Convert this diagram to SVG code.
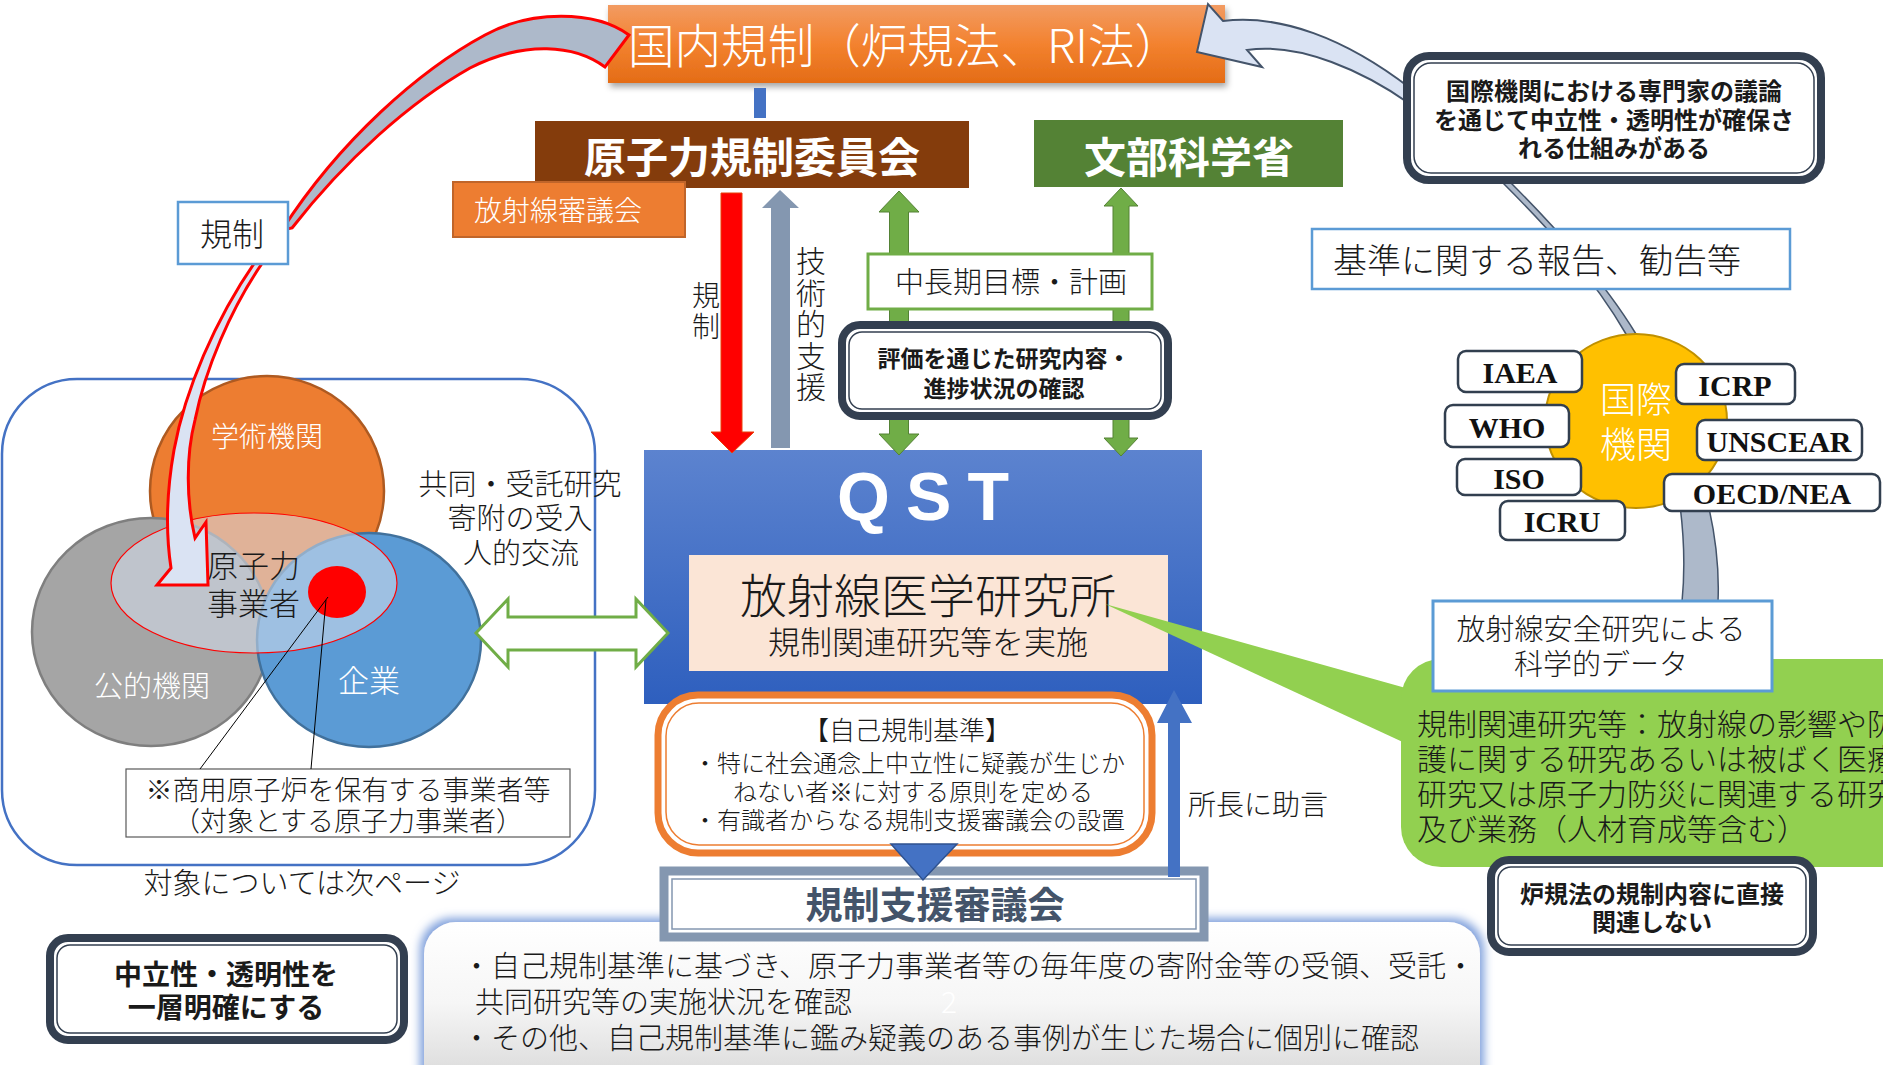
<svg xmlns="http://www.w3.org/2000/svg" width="1883" height="1065" viewBox="0 0 1883 1065">
<defs>
<style>
.t{font-family:'Noto Sans CJK JP','Noto Sans',sans-serif;font-weight:300;dominant-baseline:central;fill:#1a1a1a}
.b{font-weight:bold}
.w{fill:#fff}
.c{text-anchor:middle}
.v{writing-mode:vertical-rl;text-anchor:start}
.serif{font-family:'Liberation Serif','Noto Sans CJK JP',serif;font-weight:bold;font-size:30px;text-anchor:middle;dominant-baseline:central;fill:#111}
.dblo{fill:#fff;stroke:#333F50;stroke-width:8}
.dbli{fill:none;stroke:#333F50;stroke-width:1.5}
.org{fill:#fff;stroke:#323F4F;stroke-width:2.5}
.lbl{fill:#fff;stroke:#5B9BD5;stroke-width:2.5}
.garrow{fill:#70AD47;stroke:#548235;stroke-width:1}
</style>
<linearGradient id="gOr" x1="0" y1="0" x2="0" y2="1"><stop offset="0" stop-color="#F29B62"/><stop offset="0.5" stop-color="#F3822F"/><stop offset="1" stop-color="#E46C16"/></linearGradient>
<linearGradient id="gQst" x1="0" y1="0" x2="0" y2="1"><stop offset="0" stop-color="#5C83CF"/><stop offset="1" stop-color="#2E5FBE"/></linearGradient>
<linearGradient id="gBot" x1="0" y1="0" x2="0" y2="1"><stop offset="0" stop-color="#FFFFFF"/><stop offset="0.45" stop-color="#F6F6F6"/><stop offset="1" stop-color="#D2D2D2"/></linearGradient>
<filter id="sh" x="-5%" y="-30%" width="110%" height="170%"><feDropShadow dx="2" dy="4" stdDeviation="3" flood-color="#000" flood-opacity="0.35"/></filter>
<filter id="glow" x="-5%" y="-20%" width="110%" height="150%"><feMorphology in="SourceAlpha" operator="dilate" radius="4" result="d"/><feGaussianBlur in="d" stdDeviation="5" result="bl"/><feFlood flood-color="#7FA0DC"/><feComposite in2="bl" operator="in" result="g"/><feMerge><feMergeNode in="g"/><feMergeNode in="SourceGraphic"/></feMerge></filter>
</defs>
<rect width="1883" height="1065" fill="#fff"/>

<g id="venn">
<rect x="2" y="379" width="593" height="486" rx="75" fill="none" stroke="#4472C4" stroke-width="2.5"/>
<ellipse cx="267" cy="491" rx="117" ry="115" fill="#ED7D31" stroke="#AE5A21" stroke-width="2.5"/>
<ellipse cx="151" cy="632" rx="119" ry="114" fill="#A5A5A5" stroke="#7F7F7F" stroke-width="2.5"/>
<ellipse cx="369" cy="640" rx="112" ry="107" fill="#5B9BD5" stroke="#41719C" stroke-width="2.5"/>
<ellipse cx="254" cy="583" rx="143" ry="70" fill="#D6DFEC" fill-opacity="0.55" stroke="#FF0000" stroke-width="1.2"/>
<ellipse cx="337" cy="592" rx="29" ry="26" fill="#FF0000"/>
<text class="t w c" x="267" y="435" font-size="28">学術機関</text>
<text class="t w c" x="152" y="684" font-size="29">公的機関</text>
<text class="t w c" x="369" y="678" font-size="31">企業</text>
<text class="t" x="207" y="563" font-size="31">原子力</text>
<text class="t" x="207" y="601" font-size="31">事業者</text>
</g>

<g id="note-box">
<rect x="126" y="769" width="444" height="68" fill="#fff" stroke="#595959" stroke-width="1.2"/>
<text class="t c" x="348" y="788" font-size="27">※商用原子炉を保有する事業者等</text>
<text class="t c" x="348" y="819" font-size="27">（対象とする原子力事業者）</text>
</g>

<g id="kokunai">
<rect x="608" y="5" width="617" height="78" fill="url(#gOr)" filter="url(#sh)"/>
<text class="t w" x="628" y="42" font-size="47" textLength="553" lengthAdjust="spacingAndGlyphs">国内規制（炉規法、RI法）</text>
</g>

<g id="nra">
<rect x="535" y="121" width="434" height="67" fill="#843C0C"/>
<text class="t w b c" x="752" y="154" font-size="42">原子力規制委員会</text>
</g>

<g id="shingikai">
<rect x="453" y="182" width="232" height="55" fill="#ED7D31" stroke="#C0652A" stroke-width="2"/>
<text class="t w" x="474" y="209" font-size="28">放射線審議会</text>
</g>

<g id="mext">
<rect x="1034" y="120" width="309" height="67" fill="#548235"/>
<text class="t w b c" x="1189" y="154" font-size="42">文部科学省</text>
</g>

<g id="qst">
<rect x="644" y="450" width="558" height="254" fill="url(#gQst)"/>
<text x="923" y="520" font-family="'Liberation Sans','Noto Sans',sans-serif" font-weight="bold" font-size="68" fill="#fff" text-anchor="middle" textLength="172" lengthAdjust="spacing">Q S T</text>
<rect x="689" y="555" width="479" height="116" fill="#FBE5D6"/>
<text class="t c" x="928" y="592" font-size="47">放射線医学研究所</text>
<text class="t c" x="928" y="640" font-size="32">規制関連研究等を実施</text>
</g>

<g id="self-reg">
<rect x="658" y="695" width="494" height="158" rx="40" fill="#fff" stroke="#ED7D31" stroke-width="7"/>
<rect x="666" y="703" width="478" height="142" rx="33" fill="none" stroke="#ED7D31" stroke-width="1.5"/>
<text class="t c" x="907" y="728" font-size="26">【自己規制基準】</text>
<text class="t c" x="909" y="761" font-size="24">・特に社会通念上中立性に疑義が生じか</text>
<text class="t c" x="913" y="790" font-size="24">ねない者※に対する原則を定める</text>
<text class="t c" x="909" y="818" font-size="24">・有識者からなる規制支援審議会の設置</text>
</g>

<g id="bottom-box">
<rect x="424" y="922" width="1056" height="180" rx="32" fill="url(#gBot)" filter="url(#glow)"/>
<text class="t" x="462" y="964" font-size="29">・自己規制基準に基づき、原子力事業者等の毎年度の寄附金等の受領、受託・</text>
<text class="t" x="475" y="1000" font-size="29">共同研究等の実施状況を確認</text>
<text class="t" x="462" y="1036" font-size="29">・その他、自己規制基準に鑑み疑義のある事例が生じた場合に個別に確認</text>
<text class="t c" x="949" y="1000" font-size="30" style="fill:#fff">2</text>
</g>

<g id="support-council">
<rect x="664" y="871" width="540" height="66" fill="#fff" stroke="#8497B0" stroke-width="9"/>
<rect x="672" y="879" width="524" height="50" fill="none" stroke="#8497B0" stroke-width="1.5"/>
<text class="t b c" x="935" y="903" font-size="37" style="fill:#44546A">規制支援審議会</text>
</g>

<g id="research-callout">
<polygon points="1105,604 1420,692 1420,750" fill="#92D050"/>
<rect x="1401" y="659" width="520" height="208" rx="40" fill="#92D050"/>
<text class="t" x="1417" y="722" font-size="30">規制関連研究等：放射線の影響や防</text>
<text class="t" x="1417" y="757" font-size="30">護に関する研究あるいは被ばく医療</text>
<text class="t" x="1417" y="792" font-size="30">研究又は原子力防災に関連する研究</text>
<text class="t" x="1417" y="827" font-size="30">及び業務（人材育成等含む）</text>
</g>

<g id="neutral-box">
<rect x="50" y="938" width="354" height="102" rx="18" class="dblo"/>
<rect x="57" y="945" width="340" height="88" rx="13" class="dbli"/>
<text class="t b c" x="226" y="973" font-size="28">中立性・透明性を</text>
<text class="t b c" x="226" y="1006" font-size="28">一層明確にする</text>
</g>

<g id="connectors">
<rect x="754" y="88" width="12" height="30" fill="#4472C4"/>
<polygon points="721,193 742,193 742,432 754,432 732,453 711,432 721,432" fill="#FF0000" stroke="#E8400A" stroke-width="1"/>
<polygon points="780,190 799,208 790,208 790,448 771,448 771,208 762,208" fill="#8497B0"/>
<polygon class="garrow" points="899,191 919,212 908.5,212 908.5,434 919,434 899,455 879,434 889.5,434 889.5,212 879,212"/>
<polygon class="garrow" points="1121,188 1138,206 1129,206 1129,438 1138,438 1121,456 1104,438 1113,438 1113,206 1104,206"/>
<path d="M629,35 C595,10 530,10 485,35 C420,70 340,140 282,230 L292,228 C345,160 410,102 470,68 C525,40 575,45 605,67 Z" fill="#ADB9CA" stroke="#FF0000" stroke-width="3" stroke-linejoin="miter"/>
<path d="M255,262 C215,320 185,390 174,450 C166,495 166,535 171,568 L157,585 L208,585 L206,522 L195,538 C186,500 186,455 195,420 C205,370 230,310 263,262 Z" fill="#DAE3F3" stroke="#FF0000" stroke-width="3"/>
<path d="M1197,52 L1208,4 L1223,21 C1280,14 1345,38 1410,88 L1410,104 C1365,72 1300,42 1247,50 L1262,67 Z" fill="#DAE3F3" stroke="#44546A" stroke-width="2"/>
<path d="M1682,602 C1690,520 1670,410 1626,334 C1590,272 1540,220 1502,182 L1510,182 C1548,220 1600,275 1636,334 C1684,412 1722,510 1718,602 Z" fill="#ADB9CA" stroke="#44546A" stroke-width="1.5"/>
<line x1="328" y1="597" x2="200" y2="769" stroke="#000" stroke-width="1"/>
<line x1="326" y1="600" x2="311" y2="769" stroke="#000" stroke-width="1"/>
<polygon points="476,633 508,599 508,617 636,617 636,599 668,633 636,667 636,650 508,650 508,667" fill="#fff" stroke="#70AD47" stroke-width="3"/>
<polygon points="891,844 957,844 923,880" fill="#4472C4" stroke="#2F528F" stroke-width="1.5"/>
<polygon points="1174,690 1192,723 1180,723 1180,877 1168,877 1168,723 1157,723" fill="#4472C4"/>
</g>

<g id="label-kisei">
<rect x="178" y="202" width="110" height="62" class="lbl"/>
<text class="t c" x="232" y="232" font-size="32">規制</text>
</g>

<g id="label-kisei-vertical">
<text class="t v" x="706" y="281" font-size="28" letter-spacing="3">規制</text>
</g>

<g id="label-gijutsu">
<text class="t v" x="811" y="246" font-size="30" letter-spacing="1.4">技術的支援</text>
</g>

<g id="plan-box">
<rect x="868" y="254" width="284" height="55" fill="#fff" stroke="#70AD47" stroke-width="3"/>
<text class="t c" x="1011" y="280" font-size="29">中長期目標・計画</text>
</g>

<g id="eval-box">
<rect x="842" y="325" width="326" height="91" rx="18" class="dblo"/>
<rect x="849" y="332" width="312" height="77" rx="13" class="dbli"/>
<text class="t b c" x="1004" y="357" font-size="23">評価を通じた研究内容・</text>
<text class="t b c" x="1004" y="387" font-size="23">進捗状況の確認</text>
</g>

<g id="joint-label">
<text class="t c" x="520" y="482" font-size="29">共同・受託研究</text>
<text class="t c" x="520" y="516" font-size="29">寄附の受入</text>
<text class="t c" x="521" y="551" font-size="29">人的交流</text>
</g>

<g id="next-page-label">
<text class="t c" x="302" y="881" font-size="29">対象については次ページ</text>
</g>

<g id="advice-label">
<text class="t" x="1188" y="803" font-size="28">所長に助言</text>
</g>

<g id="intl-bubble">
<rect x="1407" y="56" width="414" height="124" rx="22" class="dblo"/>
<rect x="1414" y="63" width="400" height="110" rx="17" class="dbli"/>
<text class="t b c" x="1614" y="89" font-size="24">国際機関における専門家の議論</text>
<text class="t b c" x="1614" y="118" font-size="24">を通じて中立性・透明性が確保さ</text>
<text class="t b c" x="1614" y="146" font-size="24">れる仕組みがある</text>
</g>

<g id="standards-box">
<rect x="1312" y="229" width="478" height="60" class="lbl"/>
<text class="t" x="1333" y="258" font-size="34">基準に関する報告、勧告等</text>
</g>

<g id="intl-orgs">
<ellipse cx="1636" cy="421" rx="91" ry="87" fill="#FFC000" stroke="#BF9000" stroke-width="2"/>
<text class="t w c" x="1636" y="397" font-size="36">国際</text>
<text class="t w c" x="1636" y="442" font-size="36">機関</text>
</g>
<g id="org-iaea"><rect x="1458" y="351" width="124" height="41" rx="8" class="org"/><text class="serif" x="1520" y="372">IAEA</text></g>
<g id="org-who"><rect x="1445" y="405" width="124" height="42" rx="8" class="org"/><text class="serif" x="1507" y="427">WHO</text></g>
<g id="org-iso"><rect x="1457" y="459" width="124" height="36" rx="8" class="org"/><text class="serif" x="1519" y="478">ISO</text></g>
<g id="org-icru"><rect x="1500" y="501" width="125" height="39" rx="8" class="org"/><text class="serif" x="1562" y="521">ICRU</text></g>
<g id="org-icrp"><rect x="1676" y="364" width="119" height="40" rx="8" class="org"/><text class="serif" x="1735" y="385">ICRP</text></g>
<g id="org-unscear"><rect x="1697" y="420" width="165" height="40" rx="8" class="org"/><text class="serif" x="1779" y="441">UNSCEAR</text></g>
<g id="org-oecd"><rect x="1664" y="474" width="216" height="37" rx="8" class="org"/><text class="serif" x="1772" y="493">OECD/NEA</text></g>

<g id="science-data-box">
<rect x="1433" y="601" width="339" height="90" fill="#fff" stroke="#5B9BD5" stroke-width="3"/>
<text class="t c" x="1601" y="627" font-size="29">放射線安全研究による</text>
<text class="t c" x="1601" y="662" font-size="29">科学的データ</text>
</g>

<g id="not-related-box">
<rect x="1491" y="860" width="322" height="92" rx="18" class="dblo"/>
<rect x="1498" y="867" width="308" height="78" rx="13" class="dbli"/>
<text class="t b c" x="1652" y="892" font-size="24">炉規法の規制内容に直接</text>
<text class="t b c" x="1652" y="920" font-size="24">関連しない</text>
</g>
</svg>
